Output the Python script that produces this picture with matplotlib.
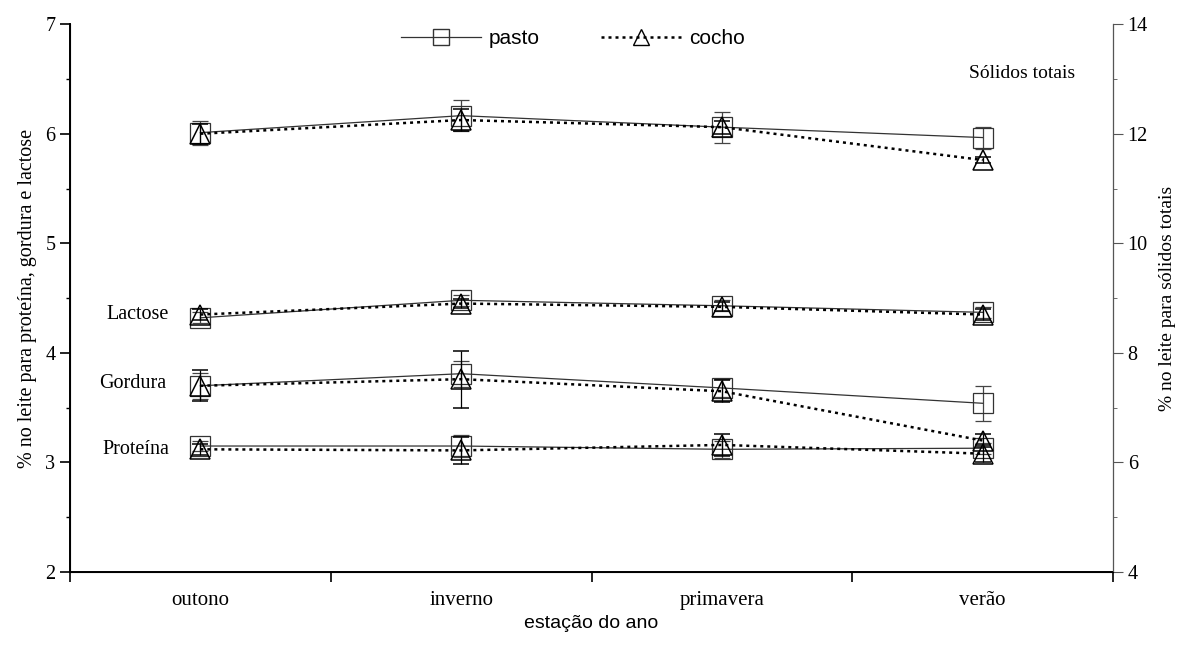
# composição do leite por estação do ano (pasto x cocho)
import matplotlib
matplotlib.use('Agg')
import matplotlib.pyplot as plt
from matplotlib.ticker import MultipleLocator
import numpy as np

estacoes = ['outono', 'inverno', 'primavera', 'verão']

# eixo esquerdo (%)
proteina_pasto = [3.15, 3.15, 3.12, 3.13]
proteina_cocho = [3.12, 3.11, 3.16, 3.08]
gordura_pasto = [3.70, 3.81, 3.68, 3.54]
gordura_cocho = [3.70, 3.76, 3.65, 3.20]
lactose_pasto = [4.32, 4.48, 4.43, 4.37]
lactose_cocho = [4.35, 4.45, 4.42, 4.35]

# eixo direito (%)
solidos_pasto = [12.02, 12.33, 12.12, 11.93]
solidos_cocho = [12.00, 12.25, 12.12, 11.52]

# erros
err_prot_pasto = [0.05, 0.10, 0.08, 0.05]
err_prot_cocho = [0.05, 0.12, 0.10, 0.08]
err_gord_pasto = [0.12, 0.12, 0.08, 0.16]
err_gord_cocho = [0.14, 0.26, 0.10, 0.06]
err_lac_pasto = [0.05, 0.05, 0.05, 0.05]
err_lac_cocho = [0.05, 0.04, 0.04, 0.05]
err_sol_pasto = [0.22, 0.28, 0.28, 0.20]
err_sol_cocho = [0.18, 0.20, 0.12, 0.06]

x = np.arange(1, len(estacoes) + 1)
serif = 'Liberation Serif'
sans = 'Liberation Sans'

fig = plt.figure(figsize=(11.8, 6.53), dpi=100)
ax = fig.add_axes([0.0593, 0.124, 0.884, 0.839])
ax2 = ax.twinx()

def desenha(a, y, e, estilo):
    if estilo == 'pasto':
        a.errorbar(x, y, yerr=e, color='#333333', lw=0.9, marker='s', ms=14,
                   mfc='none', mec='#333333', mew=0.9, capsize=6, elinewidth=0.9,
                   ecolor='#444444', zorder=3)
    else:
        a.errorbar(x, y, yerr=e, color='black', lw=1.8, ls=(0, (1.2, 1.6)), marker='^',
                   ms=14, mfc='none', mec='black', mew=1.1, capsize=6, elinewidth=0.9,
                   ecolor='black', zorder=4)

desenha(ax, proteina_pasto, err_prot_pasto, 'pasto')
desenha(ax, proteina_cocho, err_prot_cocho, 'cocho')
desenha(ax, gordura_pasto, err_gord_pasto, 'pasto')
desenha(ax, gordura_cocho, err_gord_cocho, 'cocho')
desenha(ax, lactose_pasto, err_lac_pasto, 'pasto')
desenha(ax, lactose_cocho, err_lac_cocho, 'cocho')
desenha(ax2, solidos_pasto, err_sol_pasto, 'pasto')
desenha(ax2, solidos_cocho, err_sol_cocho, 'cocho')

ax.set_xlim(0.5, 4.5)
ax.set_ylim(2, 7)
ax2.set_ylim(4, 14)
ax.set_yticks([2, 3, 4, 5, 6, 7])
ax2.set_yticks([4, 6, 8, 10, 12, 14])
ax.yaxis.set_minor_locator(MultipleLocator(0.5))
ax2.yaxis.set_minor_locator(MultipleLocator(1))

ax.set_xticks([0.5, 1.5, 2.5, 3.5, 4.5])
ax.set_xticklabels([])
ax.set_xticks(x, minor=True)
ax.set_xticklabels(estacoes, minor=True, fontsize=15, family=serif)
ax.tick_params(axis='x', which='minor', length=0, pad=14)
ax.tick_params(axis='x', which='major', length=7, width=1.2, direction='out')
ax.tick_params(axis='y', which='major', length=7, width=1.2, direction='out', labelsize=14.5)
ax.tick_params(axis='y', which='minor', length=3, width=1.0, direction='out')
ax2.tick_params(axis='y', which='major', length=7, direction='out', labelsize=14.5, color='#555555')
ax2.tick_params(axis='y', which='minor', length=3, direction='out', color='#555555')
for lb in ax.get_yticklabels() + ax2.get_yticklabels():
    lb.set_family(serif)

for a in (ax, ax2):
    a.spines['top'].set_visible(False)
ax.spines['left'].set_linewidth(1.4)
ax.spines['bottom'].set_linewidth(1.4)
ax2.spines['right'].set_color('#555555')

ax.set_ylabel('% no leite para proteína, gordura e lactose', family=serif, fontsize=14.5, labelpad=6)
ax2.set_ylabel('% no leite para sólidos totais', family=serif, fontsize=14, labelpad=8)
ax.set_xlabel('estação do ano', family=sans, fontsize=14, labelpad=3)

ax.text(0.88, 4.35, 'Lactose', family=serif, fontsize=14.5, ha='right', va='center')
ax.text(0.87, 3.72, 'Gordura', family=serif, fontsize=14.5, ha='right', va='center')
ax.text(0.88, 3.12, 'Proteína', family=serif, fontsize=14.5, ha='right', va='center')
ax2.text(4.15, 13.1, 'Sólidos totais', family=serif, fontsize=14, ha='center', va='center')

h1 = plt.Line2D([], [], color='#333333', lw=0.9, marker='s', ms=12, mfc='none', mec='#333333')
h2 = plt.Line2D([], [], color='black', lw=1.8, ls=(0, (1.2, 1.6)), marker='^', ms=12, mfc='none', mec='black')
ax2.legend([h1, h2], ['pasto', 'cocho'], loc='center', bbox_to_anchor=(0.482, 0.974),
           ncol=2, frameon=False, prop={'family': sans, 'size': 15}, handlelength=3.85,
           columnspacing=2.9, handletextpad=0.4)

fig.savefig('out.png', dpi=100)
